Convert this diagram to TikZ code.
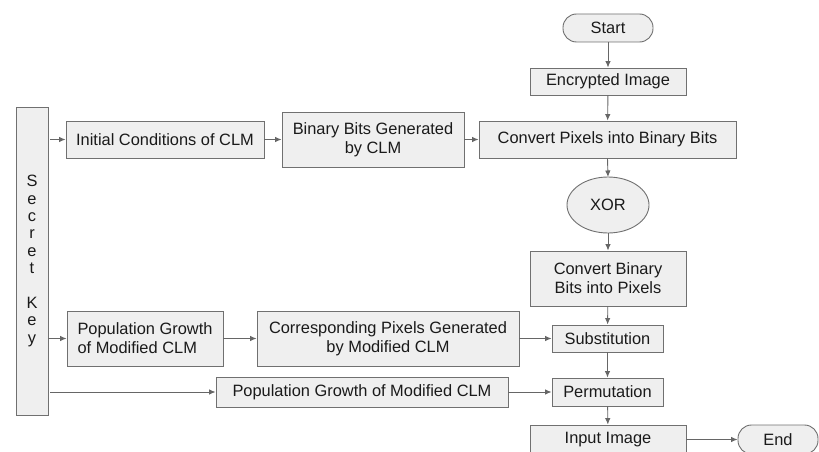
\documentclass[tikz,border=0pt]{standalone}
\usepackage{fontspec}
\setmainfont{Liberation Sans}
\usetikzlibrary{arrows.meta}
\definecolor{boxfill}{HTML}{EFEFEF}
\definecolor{boxline}{HTML}{707070}
\definecolor{arr}{HTML}{666666}
\definecolor{txt}{HTML}{1A1A1A}
\begin{document}
\begin{tikzpicture}[x=1pt,y=-1pt,
  box/.style={draw=boxline, fill=boxfill, line width=0.9pt, inner sep=0pt, align=center,
    text=txt, font=\fontsize{16.4}{19}\selectfont},
  term/.style={box, rounded corners=13.5pt},
  conn/.style={draw=arr, line width=0.9pt, -{Latex[length=6.5pt,width=5.5pt]}}]
\useasboundingbox (0,0) rectangle (819,452);
\node[box, minimum width=32pt, minimum height=308pt,
  font=\fontsize{16.4}{17.4}\selectfont] (key) at (32,261) {S\\e\\c\\r\\e\\t\\[17.4pt]K\\e\\y};
\node[box, minimum width=198pt, minimum height=37pt] (init) at (165,139.5) {Initial Conditions of CLM};
\node[box, minimum width=182pt, minimum height=55pt] (bin) at (373,139.5) {Binary Bits Generated\\by CLM};
\node[box, minimum width=257pt, minimum height=37pt] (conv) at (607.5,139.5) {Convert Pixels into Binary Bits};
\node[term, minimum width=90pt, minimum height=28pt] (start) at (608,28) {Start};
\node[box, minimum width=156pt, minimum height=27pt] (enc) at (608,81.5) {Encrypted Image};
\draw[draw=boxline, fill=boxfill, line width=0.9pt] (608,205) ellipse [x radius=41pt, y radius=28pt];
\node[inner sep=0pt, minimum width=82pt, minimum height=56pt, text=txt, font=\fontsize{16.4}{19}\selectfont] (xor) at (608,205) {XOR};
\node[box, minimum width=156pt, minimum height=55pt] (cbp) at (608,278.5) {Convert Binary\\Bits into Pixels};
\node[box, minimum width=111pt, minimum height=27pt] (subs) at (607.5,338.5) {Substitution};
\node[box, minimum width=111pt, minimum height=28pt] (perm) at (607.5,392) {Permutation};
\node[box, minimum width=156pt, minimum height=29pt] (input) at (608,439.5) {Input Image};
\node[term, minimum width=80pt, minimum height=29pt] (end) at (778,439.5) {End};
\node[box, minimum width=156pt, minimum height=55pt, align=left] (pop1) at (145,338.5) {Population Growth\\of Modified CLM};
\node[box, minimum width=262pt, minimum height=55pt] (corr) at (388,338.5) {Corresponding Pixels Generated\\by Modified CLM};
\node[box, minimum width=292pt, minimum height=30pt] (pop2) at (362,392) {Population Growth of Modified CLM};
\draw[conn] (start) -- (enc);
\draw[conn] (enc) -- (conv);
\draw[conn] (conv.south) -- (608,177);
\draw[conn] (608,233) -- (cbp.north);
\draw[conn] (cbp) -- (subs);
\draw[conn] (subs) -- (perm);
\draw[conn] (perm) -- (input);
\draw[conn] (input) -- (end);
\draw[conn] (init) -- (bin);
\draw[conn] (bin) -- (conv);
\draw[conn, shorten <=2pt] (key.east |- init.west) -- (init.west);
\draw[conn] (key.east |- pop1.west) -- (pop1.west);
\draw[conn] (pop1) -- (corr);
\draw[conn] (corr) -- (subs);
\draw[conn, shorten <=2pt] (key.east |- pop2.west) -- (pop2.west);
\draw[conn] (pop2) -- (perm);
\end{tikzpicture}
\end{document}
